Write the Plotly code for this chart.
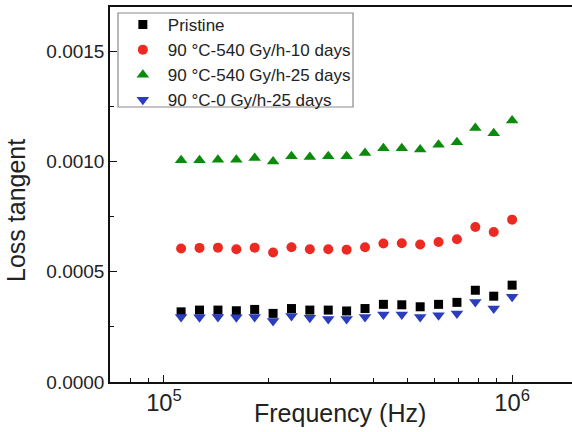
import plotly.graph_objects as go

freq = [112000, 126500, 142900, 161400, 182200, 205800, 232400, 262400, 296400,
        334700, 378000, 426900, 482100, 544400, 614800, 694300, 784100, 885500, 1000000]

pristine = [0.000318, 0.000326, 0.000326, 0.000323, 0.000329, 0.000311, 0.000333, 0.000326, 0.000326,
            0.000322, 0.000333, 0.000352, 0.000350, 0.000341, 0.000352, 0.000361, 0.000416, 0.000389, 0.000439]
d10_540 = [0.000605, 0.000608, 0.000609, 0.000602, 0.000609, 0.000587, 0.000611, 0.000602, 0.000602,
           0.000600, 0.000611, 0.000628, 0.000629, 0.000623, 0.000635, 0.000647, 0.000703, 0.000680, 0.000736]
d25_540 = [0.001005, 0.001005, 0.001008, 0.001008, 0.001015, 0.001000, 0.001023, 0.001020, 0.001023,
           0.001023, 0.001038, 0.001060, 0.001060, 0.001054, 0.001076, 0.001087, 0.001151, 0.001128, 0.001186]
d25_0 = [0.000295, 0.000293, 0.000295, 0.000293, 0.000295, 0.000277, 0.000299, 0.000291, 0.000286,
         0.000286, 0.000295, 0.000306, 0.000306, 0.000295, 0.000303, 0.000311, 0.000363, 0.000333, 0.000386]

names = ["Pristine", "90 °C-540 Gy/h-10 days", "90 °C-540 Gy/h-25 days", "90 °C-0 Gy/h-25 days"]
colors = ["#000000", "#ec2a22", "#0b8a0b", "#2b3dbd"]
symbols = ["square", "circle", "triangle-up", "triangle-down"]
sizes = [9, 10, 11, 11]
series = [pristine, d10_540, d25_540, d25_0]
x_title = "Frequency (Hz)"
y_title = "Loss tangent"

FONT = "Liberation Sans, Arial, sans-serif"

fig = go.Figure()
for nm, ys, c, s, sz in zip(names, series, colors, symbols, sizes):
    fig.add_trace(go.Scatter(x=freq, y=ys, mode="markers", name=nm,
                             marker=dict(color=c, symbol=s, size=sz, line=dict(width=0))))

# legend frame
fig.add_shape(type="rect", xref="paper", yref="paper",
              x0=0.0173, x1=0.526, y0=0.7333, y1=0.984,
              line=dict(color="#8a8a8a", width=1.2), layer="above")

fig.add_annotation(text=x_title, xref="paper", yref="paper", x=0.498, y=-0.041,
                   xanchor="center", yanchor="top", showarrow=False,
                   font=dict(family=FONT, size=25, color="#222222"))
fig.add_annotation(text=y_title, xref="paper", yref="paper", x=-0.2035, y=0.4587,
                   xanchor="center", yanchor="middle", textangle=-90, showarrow=False,
                   font=dict(family=FONT, size=25, color="#222222"))

fig.update_layout(
    width=572, height=432,
    margin=dict(l=110, r=0, t=7, b=50, autoexpand=False),
    paper_bgcolor="white", plot_bgcolor="white",
    font=dict(family=FONT, color="#222222"),
    showlegend=True,
    legend=dict(x=0.017, y=1.0, xanchor="left", yanchor="top",
                borderwidth=0, bgcolor="rgba(0,0,0,0)",
                font=dict(family=FONT, size=17, color="#222222"),
                tracegroupgap=0, itemsizing="trace", itemwidth=40),
)
fig.update_xaxes(type="log", range=[4.845, 6.172], automargin=False,
                 showline=True, linecolor="#111111", linewidth=1.5, mirror=True,
                 showgrid=False, zeroline=False,
                 ticks="inside", ticklen=7, tickwidth=1, tickcolor="#111111",
                 dtick=1, exponentformat="power", showexponent="all",
                 tickfont=dict(family=FONT, size=19, color="#222222"),
                 minor=dict(ticks="inside", ticklen=4, tickcolor="#111111", dtick="D1", showgrid=False))
fig.update_yaxes(range=[0, 0.0017], automargin=False,
                 showline=True, linecolor="#111111", linewidth=1.5, mirror=True,
                 showgrid=False, zeroline=False,
                 ticks="inside", ticklen=7, tickwidth=1, tickcolor="#111111",
                 tick0=0, dtick=0.0005, tickformat=".4f",
                 tickfont=dict(family=FONT, size=19, color="#222222"),
                 minor=dict(ticks="inside", ticklen=4, tickcolor="#111111", dtick=0.00025, showgrid=False))

fig.write_html("out.html", config={"displayModeBar": False},
               post_script="document.body.style.margin='0';document.body.style.overflow='hidden';")
